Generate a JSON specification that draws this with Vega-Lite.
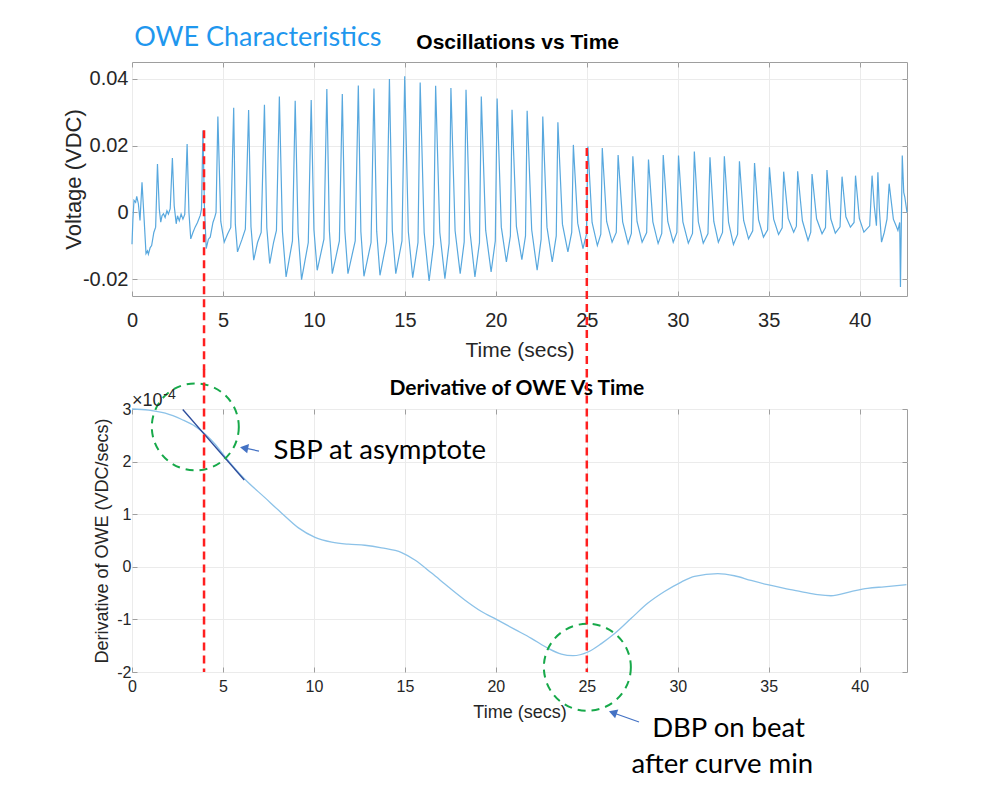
{
"$schema": "https://vega.github.io/schema/vega-lite/v6.json",
"background": "white",
"padding": {"left": 61, "top": 23, "right": 5, "bottom": 5},
"bounds": "flush",
"spacing": 113,
"config": {
  "view": {"stroke": "#9e9e9e", "strokeWidth": 1},
  "axis": {"domain": false, "gridColor": "#ebebeb", "tickColor": "#9e9e9e", "labelFont": "Liberation Sans", "titleFont": "Liberation Sans", "labelColor": "#262626", "titleColor": "#262626", "titleFontWeight": "normal", "labelFlush": false}
},
"vconcat": [
{
  "width": 775, "height": 234,
  "resolve": {"axis": {"x": "independent", "y": "independent"}},
  "layer": [
    {
      "data": {"values": [
{"t":0,"v":-0.0095},{"t":0.05,"v":-0.002},{"t":0.11,"v":0.0036},{"t":0.2,"v":0.003},{"t":0.26,"v":0.0048},{"t":0.35,"v":0.0026},{"t":0.44,"v":-0.0024},{"t":0.55,"v":0.009},{"t":0.66,"v":-0.0014},{"t":0.77,"v":-0.0123},{"t":0.85,"v":-0.0115},{"t":0.9,"v":-0.0125},{"t":1.0,"v":-0.0105},{"t":1.08,"v":-0.0099},{"t":1.2,"v":-0.006},{"t":1.3,"v":-0.0044},{"t":1.4,"v":0.0145},{"t":1.5,"v":0.001},{"t":1.58,"v":-0.0029},{"t":1.65,"v":-0.001},{"t":1.73,"v":-0.0004},{"t":1.82,"v":-0.0015},{"t":1.92,"v":0.0005},{"t":2.0,"v":-0.0005},{"t":2.1,"v":0.0011},{"t":2.22,"v":0.0163},{"t":2.32,"v":0.002},{"t":2.43,"v":-0.0034},{"t":2.5,"v":-0.001},{"t":2.6,"v":-0.0025},{"t":2.7,"v":-0.0005},{"t":2.8,"v":-0.002},{"t":2.9,"v":-0.0006},{"t":3.03,"v":0.0205},{"t":3.13,"v":0.0},{"t":3.23,"v":-0.0079},{"t":3.35,"v":-0.006},{"t":3.47,"v":-0.0044},{"t":3.6,"v":-0.003},{"t":3.75,"v":-0.0009},{"t":3.82,"v":0.001},{"t":3.9,"v":0.0245},{"t":3.98,"v":0.002},{"t":4.08,"v":-0.0108},{"t":4.2,"v":-0.008},{"t":4.3,"v":-0.0074},{"t":4.45,"v":-0.003},{"t":4.55,"v":-0.0014},{"t":4.62,"v":0.0},{"t":4.72,"v":0.0287},{"t":4.88,"v":-0.0027},{"t":5.07,"v":-0.0089},{"t":5.25,"v":-0.0065},{"t":5.43,"v":-0.0045},{"t":5.59,"v":0.0313},{"t":5.68,"v":-0.0035},{"t":5.8,"v":-0.0118},{"t":6.05,"v":-0.008},{"t":6.23,"v":-0.005},{"t":6.41,"v":0.0306},{"t":6.54,"v":-0.0043},{"t":6.69,"v":-0.0143},{"t":6.9,"v":-0.009},{"t":7.1,"v":-0.006},{"t":7.28,"v":0.0322},{"t":7.41,"v":-0.0046},{"t":7.57,"v":-0.0153},{"t":7.78,"v":-0.009},{"t":7.94,"v":-0.0054},{"t":8.1,"v":0.0347},{"t":8.27,"v":-0.0058},{"t":8.47,"v":-0.0193},{"t":8.82,"v":-0.0085},{"t":8.97,"v":0.0334},{"t":9.13,"v":-0.006},{"t":9.32,"v":-0.0201},{"t":9.69,"v":-0.009},{"t":9.85,"v":0.0336},{"t":10.0,"v":-0.0052},{"t":10.18,"v":-0.0173},{"t":10.55,"v":-0.008},{"t":10.71,"v":0.0369},{"t":10.85,"v":-0.0055},{"t":11.01,"v":-0.0183},{"t":11.4,"v":-0.0085},{"t":11.56,"v":0.0354},{"t":11.7,"v":-0.0055},{"t":11.87,"v":-0.0183},{"t":12.27,"v":-0.0085},{"t":12.44,"v":0.038},{"t":12.58,"v":-0.0057},{"t":12.75,"v":-0.0191},{"t":13.14,"v":-0.009},{"t":13.3,"v":0.0371},{"t":13.45,"v":-0.0056},{"t":13.63,"v":-0.0188},{"t":13.99,"v":-0.0088},{"t":14.15,"v":0.0399},{"t":14.31,"v":-0.0055},{"t":14.5,"v":-0.0183},{"t":14.84,"v":-0.0085},{"t":14.99,"v":0.0407},{"t":15.19,"v":-0.0058},{"t":15.43,"v":-0.0195},{"t":15.72,"v":-0.009},{"t":15.84,"v":0.0389},{"t":16.06,"v":-0.006},{"t":16.33,"v":-0.0205},{"t":16.58,"v":-0.0095},{"t":16.69,"v":0.0379},{"t":16.92,"v":-0.006},{"t":17.2,"v":-0.0198},{"t":17.43,"v":-0.0093},{"t":17.53,"v":0.0372},{"t":17.76,"v":-0.0055},{"t":18.04,"v":-0.0183},{"t":18.26,"v":-0.0088},{"t":18.36,"v":0.0367},{"t":18.58,"v":-0.0058},{"t":18.85,"v":-0.0193},{"t":19.1,"v":-0.009},{"t":19.2,"v":0.0347},{"t":19.44,"v":-0.0053},{"t":19.74,"v":-0.0178},{"t":19.97,"v":-0.0085},{"t":20.07,"v":0.0341},{"t":20.3,"v":-0.0044},{"t":20.58,"v":-0.0148},{"t":20.8,"v":-0.007},{"t":20.89,"v":0.0307},{"t":21.13,"v":-0.0042},{"t":21.43,"v":-0.0141},{"t":21.63,"v":-0.007},{"t":21.72,"v":0.0304},{"t":21.97,"v":-0.0052},{"t":22.27,"v":-0.0173},{"t":22.49,"v":-0.008},{"t":22.58,"v":0.0287},{"t":22.81,"v":-0.0044},{"t":23.1,"v":-0.0148},{"t":23.32,"v":-0.007},{"t":23.41,"v":0.027},{"t":23.66,"v":-0.0035},{"t":23.96,"v":-0.0118},{"t":24.17,"v":-0.006},{"t":24.26,"v":0.0202},{"t":24.5,"v":-0.0032},{"t":24.79,"v":-0.0108},{"t":24.98,"v":-0.0065},{"t":25.06,"v":0.0197},{"t":25.29,"v":-0.003},{"t":25.58,"v":-0.0099},{"t":25.77,"v":-0.0065},{"t":25.85,"v":0.0193},{"t":26.09,"v":-0.0027},{"t":26.39,"v":-0.0089},{"t":26.62,"v":-0.006},{"t":26.72,"v":0.0172},{"t":26.97,"v":-0.0028},{"t":27.27,"v":-0.0093},{"t":27.45,"v":-0.0063},{"t":27.53,"v":0.0168},{"t":27.76,"v":-0.0027},{"t":28.04,"v":-0.0089},{"t":28.29,"v":-0.006},{"t":28.39,"v":0.0158},{"t":28.63,"v":-0.0028},{"t":28.92,"v":-0.0093},{"t":29.12,"v":-0.0063},{"t":29.2,"v":0.0172},{"t":29.45,"v":-0.0027},{"t":29.75,"v":-0.0089},{"t":29.95,"v":-0.006},{"t":30.04,"v":0.017},{"t":30.28,"v":-0.0028},{"t":30.58,"v":-0.0092},{"t":30.81,"v":-0.0063},{"t":30.91,"v":0.0182},{"t":31.13,"v":-0.0028},{"t":31.4,"v":-0.0092},{"t":31.66,"v":-0.0063},{"t":31.77,"v":0.0165},{"t":31.98,"v":-0.0027},{"t":32.23,"v":-0.0089},{"t":32.46,"v":-0.006},{"t":32.56,"v":0.0168},{"t":32.79,"v":-0.0029},{"t":33.06,"v":-0.0096},{"t":33.29,"v":-0.0065},{"t":33.39,"v":0.0153},{"t":33.62,"v":-0.0024},{"t":33.89,"v":-0.0079},{"t":34.12,"v":-0.0055},{"t":34.22,"v":0.0148},{"t":34.44,"v":-0.0022},{"t":34.71,"v":-0.0074},{"t":34.94,"v":-0.0052},{"t":35.04,"v":0.0135},{"t":35.27,"v":-0.002},{"t":35.54,"v":-0.0066},{"t":35.74,"v":-0.0046},{"t":35.82,"v":0.0122},{"t":36.07,"v":-0.0018},{"t":36.37,"v":-0.0059},{"t":36.52,"v":-0.0041},{"t":36.59,"v":0.0123},{"t":36.85,"v":-0.0025},{"t":37.16,"v":-0.0084},{"t":37.31,"v":-0.0059},{"t":37.38,"v":0.0115},{"t":37.63,"v":-0.0019},{"t":37.93,"v":-0.0064},{"t":38.12,"v":-0.0045},{"t":38.2,"v":0.0127},{"t":38.41,"v":-0.0019},{"t":38.66,"v":-0.0062},{"t":38.92,"v":-0.0043},{"t":39.03,"v":0.0107},{"t":39.24,"v":-0.0013},{"t":39.49,"v":-0.0044},{"t":39.69,"v":-0.003},{"t":39.77,"v":0.011},{"t":39.98,"v":-0.0018},{"t":40.23,"v":-0.0059},{"t":40.55,"v":-0.004},{"t":40.68,"v":0.011},{"t":40.8,"v":0.002},{"t":40.92,"v":-0.004},{"t":41.0,"v":0.012},{"t":41.08,"v":0.001},{"t":41.2,"v":-0.0089},{"t":41.35,"v":-0.006},{"t":41.5,"v":-0.002},{"t":41.62,"v":0.0086},{"t":41.72,"v":0.004},{"t":41.85,"v":-0.002},{"t":42.0,"v":-0.004},{"t":42.1,"v":-0.0054},{"t":42.2,"v":-0.003},{"t":42.24,"v":-0.0223},{"t":42.3,"v":0.001},{"t":42.34,"v":0.017},{"t":42.42,"v":0.006},{"t":42.48,"v":0.0046},{"t":42.6,"v":0.0}
      ]},
      "mark": {"type": "line", "color": "#58a8de", "strokeWidth": 1.2},
      "encoding": {
        "x": {"field": "t", "type": "quantitative", "scale": {"domain": [0, 42.6], "nice": false, "zero": false},
              "axis": {"values": [0,5,10,15,20,25,30,35,40], "title": "Time (secs)", "titleFontSize": 21, "labelFontSize": 20, "labelPadding": 19, "titlePadding": 9, "tickSize": -5, "grid": true}},
        "y": {"field": "v", "type": "quantitative", "scale": {"domain": [-0.025, 0.045], "nice": false, "zero": false},
              "axis": {"values": [-0.02, 0, 0.02, 0.04], "format": "~g", "labelExpr": "replace(datum.label, '−', '-')", "title": "Voltage (VDC)", "titleFontSize": 22, "labelFontSize": 20, "labelPadding": 9, "titlePadding": -3, "tickSize": -5, "grid": true}}
      }
    },
    {
      "data": {"values": [{"t": 3.96, "y1": 0.0246, "y2": -0.0471}, {"t": 25.0, "y1": 0.0193, "y2": -0.0471}]},
      "mark": {"type": "rule", "color": "#ff1f1f", "strokeWidth": 2.5, "strokeDash": [8, 5], "clip": false},
      "encoding": {
        "x": {"field": "t", "type": "quantitative", "scale": {"domain": [0, 42.6], "nice": false, "zero": false},
              "axis": {"orient": "top", "values": [0,5,10,15,20,25,30,35,40], "labels": false, "grid": false, "title": null, "tickSize": -5}},
        "y": {"field": "y1", "type": "quantitative", "scale": {"domain": [-0.025, 0.045], "nice": false, "zero": false},
              "axis": {"orient": "right", "values": [-0.02, 0, 0.02, 0.04], "labels": false, "grid": false, "title": null, "tickSize": -5}},
        "y2": {"field": "y2"}
      }
    },
    {
      "data": {"values": [{"t": 0.12, "v": 0.0521, "label": "OWE Characteristics"}]},
      "mark": {"type": "text", "align": "left", "baseline": "middle", "font": "Lato", "fontSize": 27, "color": "#1f97ee", "clip": false},
      "encoding": {
        "x": {"field": "t", "type": "quantitative", "scale": {"domain": [0, 42.6], "nice": false, "zero": false}, "axis": null},
        "y": {"field": "v", "type": "quantitative", "scale": {"domain": [-0.025, 0.045], "nice": false, "zero": false}, "axis": null},
        "text": {"field": "label"}
      }
    },
    {
      "data": {"values": [{"t": 21.2, "v": 0.0507, "label": "Oscillations vs Time"}]},
      "mark": {"type": "text", "align": "center", "baseline": "middle", "font": "Liberation Sans", "fontWeight": "bold", "fontSize": 21, "color": "#000000", "clip": false},
      "encoding": {
        "x": {"field": "t", "type": "quantitative", "scale": {"domain": [0, 42.6], "nice": false, "zero": false}, "axis": null},
        "y": {"field": "v", "type": "quantitative", "scale": {"domain": [-0.025, 0.045], "nice": false, "zero": false}, "axis": null},
        "text": {"field": "label"}
      }
    }
  ]
},
{
  "width": 775, "height": 263,
  "resolve": {"axis": {"x": "independent", "y": "independent"}},
  "layer": [
    {
      "data": {"values": [
{"t":0,"d":3.0},{"t":0.91,"d":2.98},{"t":1.83,"d":2.92},{"t":2.74,"d":2.8},{"t":3.48,"d":2.67},{"t":4.03,"d":2.52},{"t":4.57,"d":2.33},{"t":5.12,"d":2.09},{"t":6.22,"d":1.66},{"t":7.32,"d":1.31},{"t":8.23,"d":1.02},{"t":9.15,"d":0.74},{"t":10.06,"d":0.56},{"t":10.98,"d":0.47},{"t":11.89,"d":0.43},{"t":12.8,"d":0.41},{"t":13.72,"d":0.36},{"t":14.82,"d":0.27},{"t":15.55,"d":0.13},{"t":16.47,"d":-0.12},{"t":17.38,"d":-0.38},{"t":18.29,"d":-0.63},{"t":19.21,"d":-0.85},{"t":20.03,"d":-1.0},{"t":21.04,"d":-1.19},{"t":21.95,"d":-1.36},{"t":22.87,"d":-1.55},{"t":23.6,"d":-1.66},{"t":24.24,"d":-1.69},{"t":25.06,"d":-1.62},{"t":25.8,"d":-1.46},{"t":26.53,"d":-1.27},{"t":27.44,"d":-0.98},{"t":28.36,"d":-0.69},{"t":29.27,"d":-0.47},{"t":30.19,"d":-0.29},{"t":30.92,"d":-0.18},{"t":32.2,"d":-0.13},{"t":33.11,"d":-0.17},{"t":34.03,"d":-0.26},{"t":34.94,"d":-0.34},{"t":35.86,"d":-0.41},{"t":36.77,"d":-0.47},{"t":37.69,"d":-0.53},{"t":38.42,"d":-0.55},{"t":39.52,"d":-0.47},{"t":40.43,"d":-0.41},{"t":41.34,"d":-0.38},{"t":42.57,"d":-0.34}
      ]},
      "mark": {"type": "line", "color": "#8cc2e8", "strokeWidth": 1.3, "interpolate": "monotone"},
      "encoding": {
        "x": {"field": "t", "type": "quantitative", "scale": {"domain": [0, 42.6], "nice": false, "zero": false},
              "axis": {"values": [0,5,10,15,20,25,30,35,40], "title": "Time (secs)", "titleFontSize": 18, "labelFontSize": 16, "labelPadding": 11, "titlePadding": 9, "tickSize": -5, "grid": true}},
        "y": {"field": "d", "type": "quantitative", "scale": {"domain": [-2, 3], "nice": false, "zero": false},
              "axis": {"values": [-2,-1,0,1,2,3], "format": "d", "labelExpr": "replace(datum.label, '−', '-')", "title": "Derivative of OWE (VDC/secs)", "titleFontSize": 18, "labelFontSize": 16, "labelPadding": 6, "titlePadding": 5, "tickSize": -5, "grid": true}}
      }
    },
    {
      "data": {"values": [{"t": 2.79, "d": 2.99}, {"t": 6.17, "d": 1.65}]},
      "mark": {"type": "line", "color": "#2c4c9c", "strokeWidth": 1.3},
      "encoding": {
        "x": {"field": "t", "type": "quantitative", "scale": {"domain": [0, 42.6], "nice": false, "zero": false}, "axis": null},
        "y": {"field": "d", "type": "quantitative", "scale": {"domain": [-2, 3], "nice": false, "zero": false}, "axis": null}
      }
    },
    {
      "data": {"values": [{"t": 3.48, "d": 2.66}, {"t": 25.03, "d": -1.91}]},
      "mark": {"type": "point", "shape": "circle", "filled": false, "color": "#17a94a", "stroke": "#17a94a", "strokeWidth": 2, "strokeDash": [8, 6], "size": 7569, "opacity": 1, "clip": false},
      "encoding": {
        "x": {"field": "t", "type": "quantitative", "scale": {"domain": [0, 42.6], "nice": false, "zero": false}, "axis": null},
        "y": {"field": "d", "type": "quantitative", "scale": {"domain": [-2, 3], "nice": false, "zero": false}, "axis": null}
      }
    },
    {
      "data": {"values": [{"t": 6.98, "d": 2.2, "t2": 6.1, "d2": 2.265}, {"t": 27.87, "d": -2.95, "t2": 26.4, "d2": -2.77}]},
      "mark": {"type": "rule", "color": "#4472c4", "strokeWidth": 1.2, "clip": false},
      "encoding": {
        "x": {"field": "t", "type": "quantitative", "scale": {"domain": [0, 42.6], "nice": false, "zero": false}, "axis": null},
        "y": {"field": "d", "type": "quantitative", "scale": {"domain": [-2, 3], "nice": false, "zero": false}, "axis": null},
        "x2": {"field": "t2"},
        "y2": {"field": "d2"}
      }
    },
    {
      "data": {"values": [{"t": 6.16, "d": 2.26}]},
      "mark": {"type": "point", "shape": "triangle-left", "filled": true, "color": "#4472c4", "size": 90, "angle": 11, "opacity": 1, "clip": false},
      "encoding": {
        "x": {"field": "t", "type": "quantitative", "scale": {"domain": [0, 42.6], "nice": false, "zero": false}, "axis": null},
        "y": {"field": "d", "type": "quantitative", "scale": {"domain": [-2, 3], "nice": false, "zero": false}, "axis": null}
      }
    },
    {
      "data": {"values": [{"t": 26.43, "d": -2.77}]},
      "mark": {"type": "point", "shape": "triangle-left", "filled": true, "color": "#4472c4", "size": 90, "angle": 19.5, "opacity": 1, "clip": false},
      "encoding": {
        "x": {"field": "t", "type": "quantitative", "scale": {"domain": [0, 42.6], "nice": false, "zero": false}, "axis": null},
        "y": {"field": "d", "type": "quantitative", "scale": {"domain": [-2, 3], "nice": false, "zero": false}, "axis": null}
      }
    },
    {
      "data": {"values": [{"t": 13.62, "d": 2.2, "label": "SBP at asymptote"}, {"t": 32.79, "d": -3.09, "label": "DBP on beat"}, {"t": 32.45, "d": -3.77, "label": "after curve min"}]},
      "mark": {"type": "text", "align": "center", "baseline": "middle", "font": "Lato", "fontSize": 27.5, "color": "#000000", "clip": false},
      "encoding": {
        "x": {"field": "t", "type": "quantitative", "scale": {"domain": [0, 42.6], "nice": false, "zero": false}, "axis": null},
        "y": {"field": "d", "type": "quantitative", "scale": {"domain": [-2, 3], "nice": false, "zero": false}, "axis": null},
        "text": {"field": "label"}
      }
    },
    {
      "data": {"values": [{"t": 21.15, "d": 3.38, "label": "Derivative of OWE Vs Time"}]},
      "mark": {"type": "text", "align": "center", "baseline": "middle", "font": "Lato", "fontWeight": "bold", "fontSize": 21, "color": "#000000", "clip": false},
      "encoding": {
        "x": {"field": "t", "type": "quantitative", "scale": {"domain": [0, 42.6], "nice": false, "zero": false}, "axis": null},
        "y": {"field": "d", "type": "quantitative", "scale": {"domain": [-2, 3], "nice": false, "zero": false}, "axis": null},
        "text": {"field": "label"}
      }
    },
    {
      "data": {"values": [{"t": 0.0, "d": 3.15, "label": "×10"}]},
      "mark": {"type": "text", "align": "left", "baseline": "middle", "font": "Liberation Sans", "fontSize": 18, "color": "#262626", "clip": false},
      "encoding": {
        "x": {"field": "t", "type": "quantitative", "scale": {"domain": [0, 42.6], "nice": false, "zero": false}, "axis": null},
        "y": {"field": "d", "type": "quantitative", "scale": {"domain": [-2, 3], "nice": false, "zero": false}, "axis": null},
        "text": {"field": "label"}
      }
    },
    {
      "data": {"values": [{"t": 1.72, "d": 3.27, "label": "-4"}]},
      "mark": {"type": "text", "align": "left", "baseline": "middle", "font": "Liberation Sans", "fontSize": 14, "color": "#262626", "clip": false},
      "encoding": {
        "x": {"field": "t", "type": "quantitative", "scale": {"domain": [0, 42.6], "nice": false, "zero": false}, "axis": null},
        "y": {"field": "d", "type": "quantitative", "scale": {"domain": [-2, 3], "nice": false, "zero": false}, "axis": null},
        "text": {"field": "label"}
      }
    },
    {
      "data": {"values": [{"t": 3.96, "y1": 3.75, "y2": -2}, {"t": 25.0, "y1": 3.75, "y2": -2}]},
      "mark": {"type": "rule", "color": "#ff1f1f", "strokeWidth": 2.5, "strokeDash": [8, 5], "clip": false},
      "encoding": {
        "x": {"field": "t", "type": "quantitative", "scale": {"domain": [0, 42.6], "nice": false, "zero": false},
              "axis": {"orient": "top", "values": [0,5,10,15,20,25,30,35,40], "labels": false, "grid": false, "title": null, "tickSize": -5}},
        "y": {"field": "y1", "type": "quantitative", "scale": {"domain": [-2, 3], "nice": false, "zero": false},
              "axis": {"orient": "right", "values": [-2,-1,0,1,2,3], "labels": false, "grid": false, "title": null, "tickSize": -5}},
        "y2": {"field": "y2"}
      }
    }
  ]
}
]
}
